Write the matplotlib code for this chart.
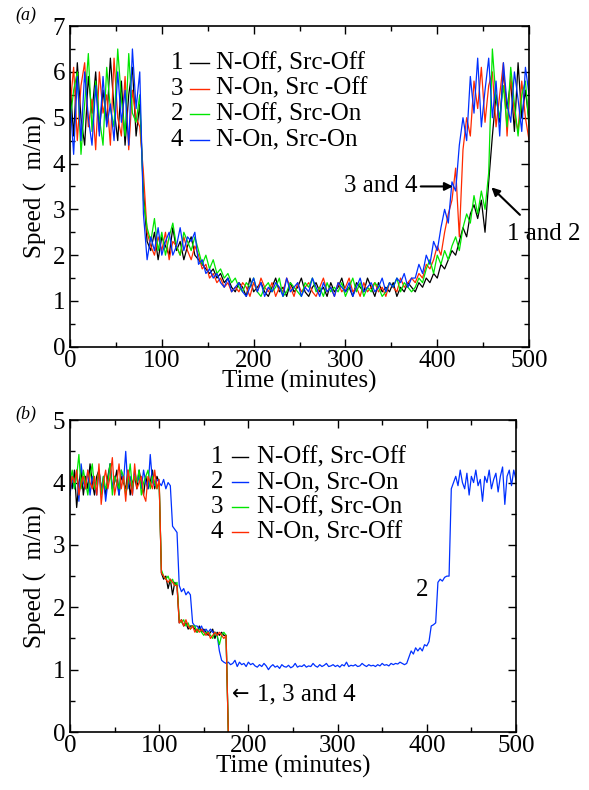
import numpy as np
import matplotlib
matplotlib.use("Agg")
import matplotlib.pyplot as plt
from matplotlib.ticker import MultipleLocator

plt.rcParams['font.family'] = ['Liberation Serif', 'DejaVu Serif']

# ---------------- panel (a) data: speed every 4 minutes ----------------
time_a = np.arange(0, 501, 4)

a1_black = [5.8, 4.6, 6.2, 5.0, 4.4, 5.9, 5.1, 6.0, 4.7, 5.6,
            4.9, 6.3, 5.2, 4.5, 5.8, 4.4, 5.5, 6.1, 4.6, 5.3,
            3.4,
            2.3, 2.1, 2.5, 1.9, 2.4, 2.2, 2.0, 2.6, 2.1, 2.3, 1.9, 2.2, 2.4, 2.0,
            1.9, 1.8, 1.7, 1.6, 1.7, 1.5, 1.6, 1.4, 1.5, 1.3,
            1.2, 1.4, 1.3, 1.1, 1.5, 1.2, 1.3, 1.4, 1.2, 1.1,
            1.3, 1.5, 1.2, 1.3, 1.1, 1.4, 1.2, 1.3, 1.5, 1.2,
            1.1, 1.3, 1.4, 1.2, 1.3, 1.1, 1.4, 1.2, 1.3, 1.5,
            1.2, 1.3, 1.1, 1.4, 1.3, 1.2, 1.5, 1.3, 1.1, 1.4,
            1.2, 1.3, 1.2, 1.4, 1.1, 1.3, 1.2, 1.4, 1.3,
            1.2, 1.4, 1.3, 1.5, 1.4, 1.6, 1.5, 1.8, 1.7, 1.9,
            2.1, 2.0, 2.3, 2.6, 2.4, 2.9, 3.1, 2.8, 3.2, 2.5,
            3.6, 4.6, 5.5, 4.9, 6.0, 5.2, 5.8, 4.7, 6.2, 5.0,
            5.6, 4.9]

a3_red = [5.2, 6.1, 4.5, 5.7, 6.2, 4.8, 5.4, 4.3, 6.0, 5.1,
          5.5, 4.4, 6.3, 5.0, 4.6, 5.9, 4.3, 5.6, 5.0, 4.8,
          3.8,
          2.5, 2.2, 2.0, 2.4, 2.1, 2.5, 1.9, 2.3, 2.2, 2.0, 2.4, 2.1, 1.9, 2.2,
          2.0, 1.7, 1.8, 1.5, 1.6, 1.4, 1.5, 1.3, 1.4, 1.2,
          1.3, 1.2, 1.4, 1.3, 1.1, 1.4, 1.2, 1.5, 1.3, 1.2,
          1.4, 1.1, 1.3, 1.2, 1.5, 1.3, 1.1, 1.4, 1.2, 1.3,
          1.4, 1.2, 1.1, 1.3, 1.5, 1.2, 1.3, 1.1, 1.4, 1.2,
          1.3, 1.5, 1.2, 1.3, 1.1, 1.4, 1.2, 1.3, 1.4, 1.2,
          1.3, 1.1, 1.4, 1.3, 1.2, 1.5, 1.3, 1.4, 1.5,
          1.4, 1.6, 1.5, 1.8, 1.7, 1.9, 2.2, 2.0, 2.5, 2.9,
          3.2, 3.9, 2.4, 4.3, 5.0, 4.6, 5.8, 5.2, 6.1, 4.9,
          5.7, 6.0, 4.8, 5.5, 6.2, 4.6, 5.9, 5.1, 4.7, 5.8,
          5.0, 4.5]

a2_green = [4.9, 5.6, 6.0, 4.2, 5.3, 6.4, 4.7, 5.8, 5.0, 4.4,
            6.1, 5.2, 4.8, 6.5, 5.4, 4.6, 6.4, 5.1, 4.9, 5.5,
            3.2,
            2.6, 2.3, 2.8, 2.1, 2.5, 2.0, 2.4, 2.7, 2.2, 2.0, 2.5, 2.3, 2.1, 2.4,
            2.1, 1.8, 2.0, 1.7, 1.9, 1.6, 1.7, 1.5, 1.6, 1.4,
            1.5, 1.3, 1.2, 1.4, 1.3, 1.5, 1.2, 1.1, 1.3, 1.4,
            1.2, 1.3, 1.5, 1.1, 1.2, 1.4, 1.3, 1.2, 1.1, 1.4,
            1.3, 1.5, 1.2, 1.3, 1.1, 1.4, 1.2, 1.3, 1.2, 1.4,
            1.1, 1.3, 1.5, 1.2, 1.4, 1.1, 1.3, 1.2, 1.4, 1.3,
            1.1, 1.2, 1.4, 1.3, 1.5, 1.2, 1.4, 1.3, 1.2,
            1.3, 1.5, 1.4, 1.7, 1.9, 1.6, 2.0, 1.8, 2.1, 1.9,
            2.2, 2.4, 2.1, 2.6, 2.9, 2.7, 3.3, 2.9, 3.4, 3.0,
            3.8, 6.5, 5.4, 5.0, 5.7, 4.8, 6.1, 5.3, 4.6, 5.5,
            5.8, 4.8]

a4_blue = [5.4, 4.2, 5.9, 4.5, 6.0, 5.0, 4.4, 5.7, 4.6, 5.9,
           4.8, 5.3, 4.5, 6.0, 4.9, 5.6, 4.4, 6.5, 5.2, 6.0,
           2.9,
           1.9, 2.4, 2.1, 2.6, 2.0, 2.3, 2.5, 2.0, 2.2, 2.6, 2.1, 2.4, 2.3, 2.5,
           1.8, 1.9, 1.6, 1.7, 1.5, 1.6, 1.4, 1.3, 1.5, 1.2,
           1.3, 1.4, 1.2, 1.1, 1.3, 1.5, 1.2, 1.4, 1.1, 1.3,
           1.2, 1.4, 1.3, 1.1, 1.5, 1.2, 1.3, 1.4, 1.1, 1.3,
           1.2, 1.5, 1.3, 1.1, 1.4, 1.2, 1.3, 1.1, 1.4, 1.3,
           1.2, 1.4, 1.1, 1.3, 1.5, 1.2, 1.3, 1.4, 1.2, 1.3,
           1.5, 1.2, 1.4, 1.3, 1.5, 1.4, 1.6, 1.3, 1.5,
           1.5, 1.8, 1.6, 2.0, 1.8, 2.3, 2.1, 2.6, 3.0, 2.7,
           3.6, 3.4, 4.4, 5.0, 4.5, 5.9, 5.1, 6.3, 4.8, 5.6,
           6.3, 5.0, 5.8, 4.6, 6.2, 5.3, 4.9, 6.0, 5.4, 4.7,
           6.1, 5.5]

# ---------------- panel (b) data: speed every 2.5 minutes ----------------
time_b_short = np.arange(0, 178, 2.5)   # runs 1, 3, 4 stop at ~177 min
time_b_long = np.arange(0, 501, 2.5)    # run 2 lasts the whole period

b1_black = [4.1, 3.9, 4.2, 3.6, 4.0, 4.2, 3.8, 4.1, 3.9, 4.3,
            4.0, 3.8, 4.1, 4.2, 3.9, 4.0, 3.8, 4.1, 4.3, 3.9,
            4.0, 4.2, 3.8, 4.1, 4.0, 3.9, 4.2, 3.8, 4.0, 4.1,
            3.9, 4.2, 4.0, 3.8, 4.1, 3.9, 4.0, 4.2, 3.9, 4.1, 4.0,
            2.55, 2.45, 2.5, 2.3, 2.45, 2.2, 2.4, 2.35,
            1.75, 1.8, 1.7, 1.75, 1.65, 1.7, 1.7, 1.65, 1.6, 1.7, 1.6,
            1.65, 1.6, 1.55, 1.6, 1.65, 1.5, 1.6, 1.55, 1.6, 1.55, 1.55,
            0.0]

b3_green = [4.0, 4.2, 3.9, 4.1, 4.45, 3.9, 4.2, 4.0, 3.8, 4.1,
            4.3, 3.9, 4.0, 4.2, 3.8, 4.1, 3.9, 4.0, 4.3, 3.8,
            4.1, 4.0, 3.9, 4.2, 4.1, 3.8, 4.0, 4.3, 3.9, 4.1,
            4.0, 4.2, 3.8, 4.0, 4.1, 4.2, 3.9, 4.1, 4.0, 3.9, 4.0,
            2.6, 2.5, 2.45, 2.5, 2.4, 2.45, 2.35, 2.4,
            1.8, 1.75, 1.8, 1.7, 1.75, 1.65, 1.7, 1.7, 1.6, 1.65, 1.6,
            1.55, 1.6, 1.6, 1.55, 1.5, 1.6, 1.55, 1.4, 1.55, 1.6, 1.55,
            0.0]

b4_red = [3.9, 4.1, 4.0, 4.2, 3.8, 4.0, 4.1, 3.9, 4.2, 4.0,
          3.9, 4.1, 3.8, 4.3, 3.65, 4.0, 4.2, 3.9, 4.1, 4.4,
          3.8, 4.0, 4.3, 3.9, 4.1, 3.7, 4.2, 4.0, 3.8, 4.3,
          3.9, 4.0, 4.1, 3.8, 3.7, 4.1, 4.0, 3.9, 4.2, 3.9, 4.05,
          2.55, 2.5, 2.45, 2.4, 2.45, 2.4, 2.35, 2.35,
          1.75, 1.8, 1.7, 1.8, 1.7, 1.65, 1.7, 1.6, 1.65, 1.6, 1.65,
          1.6, 1.55, 1.6, 1.5, 1.55, 1.6, 1.55, 1.6, 1.55, 1.5, 1.55,
          0.0]

b2_blue = [3.8, 4.1, 3.9, 4.2, 3.7, 4.3, 4.0, 3.9, 4.2, 3.8,
           4.1, 4.0, 3.8, 4.2, 3.9, 4.1, 3.7, 4.0, 4.3, 3.9,
           4.1, 4.0, 3.8, 4.2, 4.0, 4.5, 3.9, 4.1, 3.8, 4.2,
           4.0, 4.1, 3.9, 4.2, 4.0, 3.9, 4.45, 4.0, 3.95, 4.05,
           4.0, 3.95, 4.05, 3.9, 4.0,
           3.95,
           3.3, 3.25, 3.2,
           2.35, 2.25, 2.3, 2.2, 2.25, 2.2,
           1.75, 1.7, 1.7, 1.65, 1.7, 1.6, 1.65, 1.6, 1.65, 1.6, 1.6, 1.55,
           1.3,
           1.15, 1.12, 1.1, 1.12, 1.08, 1.1, 1.15, 1.05, 1.12, 1.08,
           1.1, 1.05, 1.12, 1.08, 1.1, 1.06, 1.04, 1.08, 1.05, 1.1,
           1.06, 1.0, 1.05, 1.08, 1.04, 1.06, 1.02, 1.08, 1.05, 1.04,
           1.07, 1.03, 1.05, 1.1, 1.04, 1.06, 1.05, 1.08, 1.04, 1.06,
           1.05, 1.1, 1.06, 1.04, 1.08, 1.05, 1.07, 1.1, 1.05, 1.06,
           1.08, 1.05, 1.07, 1.04, 1.08, 1.06, 1.12, 1.05, 1.07, 1.06,
           1.08, 1.05, 1.06, 1.1, 1.07, 1.05, 1.08, 1.06, 1.07, 1.05,
           1.08, 1.06, 1.1, 1.07, 1.08, 1.06, 1.1, 1.08, 1.1, 1.09,
           1.12, 1.1, 1.08, 1.1,
           1.2, 1.3, 1.25, 1.35, 1.3, 1.35, 1.3, 1.4, 1.38, 1.45,
           1.7, 1.72, 1.75,
           2.4, 2.45, 2.42, 2.48, 2.5,
           2.5,
           3.9, 4.0, 4.1, 3.95, 4.2, 4.0, 3.9, 4.15, 3.8, 4.1,
           4.0, 4.2, 3.95, 4.05, 3.7, 4.1, 4.0, 4.2, 3.9, 4.05,
           4.15, 3.85, 4.1, 4.25, 3.65, 4.1, 4.2, 3.95, 4.2, 4.05]

BLACK = '#000000'
RED = '#ff2a00'
GREEN = '#00e600'
BLUE = '#0030ff'

FS = 18

fig = plt.figure(figsize=(5.89, 7.90), dpi=100)
ax_a = fig.add_axes([0.1188, 0.561, 0.7795, 0.406])
ax_b = fig.add_axes([0.1188, 0.0734, 0.7572, 0.3947])


def style_axes(ax, ymax):
    ax.set_xlim(0, 500)
    ax.set_ylim(0, ymax)
    ax.xaxis.set_major_locator(MultipleLocator(100))
    ax.xaxis.set_minor_locator(MultipleLocator(50))
    ax.yaxis.set_major_locator(MultipleLocator(1))
    ax.yaxis.set_minor_locator(MultipleLocator(0.5))
    ax.tick_params(which='both', direction='in', top=True, right=True,
                   labelsize=FS, width=1.0)
    ax.tick_params(which='major', length=6)
    ax.tick_params(which='minor', length=3.5)
    ax.tick_params(axis='x', pad=2)
    for s in ax.spines.values():
        s.set_linewidth(1.2)
    ax.set_xlabel('Time (minutes)', fontsize=FS, labelpad=-1)
    ax.set_ylabel('Speed (  m/m)', fontsize=FS, labelpad=4)


def key(ax, rows, x_num, x_line, x_text, y_top, dy):
    for i, (num, color, label) in enumerate(rows):
        y = y_top - i * dy
        ax.text(x_num, y, num, transform=ax.transAxes, ha='center',
                va='center', fontsize=FS)
        ax.plot(x_line, [y, y], transform=ax.transAxes, color=color, lw=1.0)
        ax.text(x_text, y, label, transform=ax.transAxes, ha='left',
                va='center', fontsize=FS)


# ---------------- panel (a) ----------------
lw = 0.9
ax_a.plot(time_a, a1_black, color=BLACK, lw=lw)
ax_a.plot(time_a, a3_red, color=RED, lw=lw)
ax_a.plot(time_a, a2_green, color=GREEN, lw=lw)
ax_a.plot(time_a, a4_blue, color=BLUE, lw=lw)
style_axes(ax_a, 7)

key(ax_a, [('1', BLACK, 'N-Off, Src-Off'),
           ('3', RED, 'N-On, Src -Off'),
           ('2', GREEN, 'N-Off, Src-On'),
           ('4', BLUE, 'N-On, Src-On')],
    0.233, [0.262, 0.302], 0.318, 0.885, 0.080)

ax_a.text(379, 3.5, '3 and 4', ha='right', va='center', fontsize=FS)
ax_a.annotate('', xy=(417, 3.5), xytext=(382, 3.5),
              arrowprops=dict(arrowstyle='-|>', color='black', lw=1.5,
                              mutation_scale=12, shrinkA=0, shrinkB=0))
ax_a.text(476, 2.47, '1 and 2', ha='left', va='center', fontsize=FS)
ax_a.annotate('', xy=(459, 3.48), xytext=(490, 2.88),
              arrowprops=dict(arrowstyle='-|>', color='black', lw=1.5,
                              mutation_scale=12, shrinkA=0, shrinkB=0))

# ---------------- panel (b) ----------------
ax_b.plot(time_b_short, b1_black, color=BLACK, lw=lw)
ax_b.plot(time_b_long, b2_blue, color=BLUE, lw=lw)
ax_b.plot(time_b_short, b3_green, color=GREEN, lw=lw)
ax_b.plot(time_b_short, b4_red, color=RED, lw=lw)
style_axes(ax_b, 5)

key(ax_b, [('1', BLACK, 'N-Off, Src-Off'),
           ('2', BLUE, 'N-On, Src-On'),
           ('3', GREEN, 'N-Off, Src-On'),
           ('4', RED, 'N-On, Src-Off')],
    0.330, [0.363, 0.400], 0.420, 0.881, 0.080)

ax_b.text(395, 2.28, '2', ha='center', va='center', fontsize=FS)
ax_b.text(182, 0.6, '\u2190', ha='left', va='center', fontsize=15,
          family='DejaVu Sans')
ax_b.text(210, 0.6, '1, 3 and 4', ha='left', va='center', fontsize=FS)

fig.text(0.026, 0.981, '(a)', fontsize=13, style='italic', va='center')
fig.text(0.026, 0.475, '(b)', fontsize=13, style='italic', va='center')

fig.savefig('out.png', dpi=100)
